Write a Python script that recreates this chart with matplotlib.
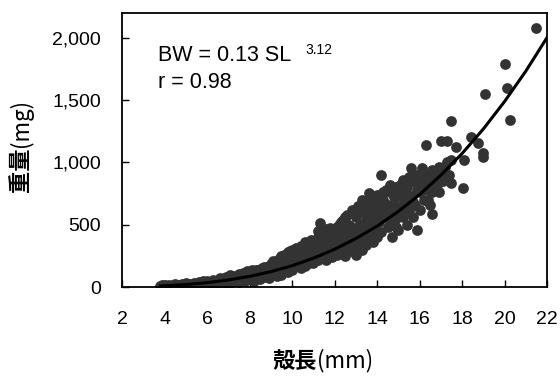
import matplotlib
matplotlib.use("Agg")
import matplotlib.pyplot as plt
from matplotlib.ticker import FuncFormatter

# shell length (mm) / body weight (mg)
shell_len = [
    3.8, 3.9, 4.0, 4.0, 4.1, 4.2, 4.3, 4.4, 4.5, 4.6, 4.7, 4.8, 4.9, 5.0, 5.0,
    5.1, 5.2, 5.3, 5.4, 5.5, 5.5, 5.6, 5.7, 5.8, 5.8, 5.9, 6.0, 6.0, 6.1,
    6.2, 6.3, 6.3, 6.4, 6.5, 6.5, 6.6, 6.7, 6.8, 6.8, 6.9, 7.0, 7.0, 7.1, 7.2,
    7.2, 7.3, 7.4, 7.4, 7.5, 7.6, 7.6, 7.7, 7.8, 7.8, 7.9, 8.0, 8.0, 8.1, 8.2, 8.2,
    8.3, 8.4, 8.4, 8.5, 8.5, 8.6, 8.6, 8.7, 8.8, 8.8, 8.9, 8.9, 9.0, 9.0, 9.1,
    9.2, 9.2, 9.3, 9.3, 9.4, 9.4, 9.5, 9.5, 9.6, 9.6, 9.7, 9.7, 9.8, 9.8, 9.9,
    9.9, 10.0, 10.0, 10.0,
    10.1, 10.1, 10.2, 10.2, 10.3, 10.3, 10.4, 10.4, 10.5, 10.5, 10.6, 10.6,
    10.7, 10.7, 10.8, 10.8, 10.9, 10.9, 11.0, 11.0, 11.1, 11.1, 11.2, 11.2,
    11.3, 11.3, 11.4, 11.4, 11.5, 11.6, 11.6, 11.6, 11.7, 11.7, 11.8, 11.9,
    11.9, 12.0, 12.0,
    12.1, 12.1, 12.2, 12.2, 12.3, 12.3, 12.4, 12.4, 12.5, 12.5, 12.6, 12.6,
    12.7, 12.8, 12.8, 12.8, 12.9, 13.0, 13.0, 13.0, 13.1, 13.2, 13.2, 13.3,
    13.3, 13.4, 13.4, 13.5, 13.5, 13.6, 13.6, 13.6, 13.7, 13.7, 13.8, 13.8,
    13.9, 13.9, 14.0, 14.0, 14.0,
    14.1, 14.2, 14.2, 14.2, 14.3, 14.4, 14.4, 14.5, 14.5, 14.6, 14.7, 14.7,
    14.8, 14.8, 14.9, 15.0, 15.0, 15.1, 15.2, 15.2, 15.3, 15.4, 15.4, 15.5,
    15.5, 15.6, 15.6, 15.7, 15.8, 15.8, 15.9, 15.9, 16.0, 16.0,
    16.1, 16.1, 16.2, 16.3, 16.3, 16.4, 16.5, 16.5, 16.6, 16.6, 16.7, 16.8,
    16.9, 17.0, 17.0, 17.1, 17.2, 17.3, 17.4, 17.5, 17.5, 17.5, 17.7,
    18.05, 18.1, 18.4, 18.75, 19.0, 19.0, 19.1, 20.0, 20.1, 20.26, 21.5,
    # extra points filling the dense band
    8.7, 9.1, 9.5, 9.9, 10.2, 10.4,
    10.6, 10.8, 11.0, 11.2, 11.4, 11.5, 11.8, 12.0, 11.3, 11.0,
    12.2, 12.4, 12.6, 12.9, 13.1, 13.3, 13.5, 13.7, 13.9, 12.7, 13.1, 13.4,
    13.6, 14.0, 12.3,
    14.1, 14.3, 14.4, 14.6, 14.8, 14.9, 15.1, 15.3, 15.5, 15.7, 15.9, 16.0,
    14.6, 15.0, 15.3, 15.7, 15.2, 14.9,
    16.2, 16.4, 16.6, 16.8, 17.0, 17.2, 16.4, 16.9, 17.3,
    6.6, 7.1, 7.5, 7.9, 8.3, 6.9, 7.7, 8.1,
]
body_wt = [
    8, 15, 5, 20, 10, 18, 6, 14, 22, 8, 16, 25, 10, 20, 32,
    12, 28, 18, 35, 15, 26, 40, 22, 12, 45, 30, 20, 52, 38,
    25, 55, 42, 18, 60, 35, 48, 28, 65, 45, 38, 75, 55, 30, 85,
    62, 45, 90, 70, 40, 95, 60, 78, 50, 105, 85, 115, 65, 95, 45, 125,
    80, 110, 135, 65, 95, 150, 120, 80, 140, 105, 165, 70, 125, 185, 95,
    150, 200, 115, 85, 170, 225, 135, 100, 260, 195, 155, 230, 120, 280, 180,
    245, 140, 300, 210,
    265, 160, 230, 310, 185, 280, 150, 330, 250, 205, 300, 170,
    345, 265, 220, 190, 320, 380, 250, 195, 355, 290, 450, 220,
    515, 330, 395, 250, 300, 466, 370, 215, 410, 280, 340, 440,
    240, 385, 300,
    480, 260, 420, 340, 520, 280, 380, 460, 250, 560, 330, 430,
    500, 618, 290, 390, 470, 560, 340, 260, 430, 600, 500, 300,
    380, 660, 460, 540, 340, 755, 683, 420, 600, 500, 360, 700,
    460, 560, 640, 400, 740,
    520, 900, 600, 440, 700, 780, 560, 480, 660, 760, 600, 400,
    720, 520, 800, 640, 460, 740, 860, 560, 680, 800, 500, 880,
    620, 956, 730, 560, 840, 660, 458, 900, 760, 620,
    956, 850, 700, 1141, 900, 780, 659, 860, 586, 940, 820, 900,
    760, 1172, 924, 850, 960, 1172, 900, 1020, 835, 1333, 1125,
    795, 1020, 1205, 1157, 1076, 1044, 1550, 1790, 1598, 1341, 2080,
    160, 210, 245, 290, 270, 295,
    360, 330, 370, 400, 430, 380, 470, 450, 270, 320,
    500, 540, 580, 600, 650, 700, 620, 680, 720, 360, 330, 400,
    560, 560, 420,
    680, 760, 640, 820, 640, 720, 820, 780, 720, 860, 780, 880,
    540, 560, 600, 680, 660, 480,
    820, 900, 760, 820, 860, 880, 700, 960, 1000,
    75, 95, 105, 125, 140, 82, 115, 135,
]

# regression curve BW = 0.13 SL^3.12 as drawn
fit_len = [3.8, 4, 5, 6, 7, 8, 9, 10, 11, 12, 13, 14, 15, 16, 17, 18, 19, 20, 21, 22]
fit_wt = [8.4, 9.8, 19.7, 34.8, 56.3, 85.4, 123, 171, 231, 303, 389, 489, 607,
          742, 898, 1072, 1269, 1490, 1734, 2004]

x_ticks = list(range(2, 23, 2))
y_ticks = [0, 500, 1000, 1500, 2000]

plt.rcParams['font.family'] = ['Liberation Sans', 'DejaVu Sans']
cjk = ['Noto Sans CJK JP', 'DejaVu Sans']

fig = plt.figure(figsize=(5.6, 3.76), dpi=100)
ax = fig.add_axes([0.218, 0.2367, 0.759, 0.7287])

ax.scatter(shell_len, body_wt, s=60, color='#333333', linewidths=0, zorder=2)
ax.plot(fit_len, fit_wt, color='black', lw=2.2, zorder=3)

ax.set_xlim(2, 22)
ax.set_ylim(0, 2200)
ax.set_xticks(x_ticks)
ax.set_yticks(y_ticks)
ax.yaxis.set_major_formatter(FuncFormatter(lambda v, p: f"{int(v):,}"))
ax.tick_params(direction='in', length=5, width=1, labelsize=14, colors='black')
ax.tick_params(axis='x', pad=17)
ax.tick_params(axis='y', pad=15)
for sp in ax.spines.values():
    sp.set_linewidth(1.3)

ax.text(0.0847, 0.825, "BW = 0.13 SL", transform=ax.transAxes, fontsize=15.5, va='baseline')
ax.text(0.4306, 0.852, "3.12", transform=ax.transAxes, fontsize=10, va='baseline')
ax.text(0.0847, 0.726, "r = 0.98", transform=ax.transAxes, fontsize=15.5, va='baseline')

# axis labels (kanji bold, units regular)
fig.text(0.566, 0.022, "殻長", family=cjk, fontsize=16, weight='bold', ha='right', va='baseline')
fig.text(0.566, 0.022, "(mm)", family=cjk, fontsize=16, ha='left', va='baseline')
fig.text(0.0375, 0.609, "重量", family=cjk, fontsize=16, weight='bold', rotation=90,
         ha='center', va='top')
fig.text(0.0375, 0.609, "(mg)", family=cjk, fontsize=16, rotation=90,
         ha='center', va='bottom')

fig.savefig("out.png", dpi=100)
